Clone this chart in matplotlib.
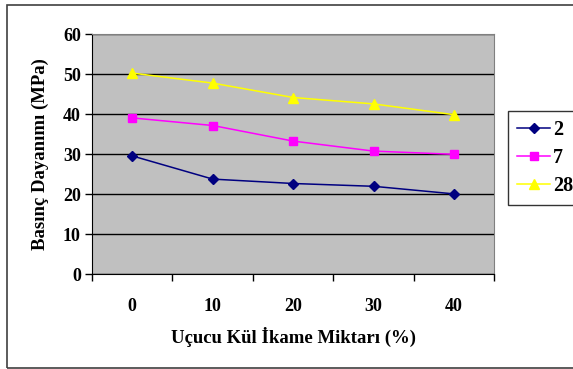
import numpy as np
import matplotlib.pyplot as plt
from matplotlib.patches import Rectangle

# Uçucu kül ikame oranına göre basınç dayanımı (2, 7 ve 28 günlük)
kul_orani = ['0', '10', '20', '30', '40']
gun_2 = [29.6, 23.8, 22.7, 22.0, 20.1]
gun_7 = [39.1, 37.2, 33.3, 30.8, 30.0]
gun_28 = [50.3, 47.8, 44.2, 42.6, 39.9]

plt.rcParams['font.family'] = ['Liberation Serif', 'DejaVu Serif']
plt.rcParams['font.weight'] = 'bold'

W, H = 573, 369
fig = plt.figure(figsize=(W/100, H/100), dpi=100)

# dış çerçeve
fig.patches.append(Rectangle((7/W, 1/H), 1.2, 1-6/H, transform=fig.transFigure,
                             fill=False, edgecolor='#404040', linewidth=1.2))

ax = fig.add_axes([92/W, (H-274.3)/H, 402.3/W, 240/H])
ax.set_facecolor('#C0C0C0')

x = np.arange(len(kul_orani))
ax.plot(x, gun_2, color='#000080', marker='D', markersize=5, linewidth=1.1, label='2')
ax.plot(x, gun_7, color='#FF00FF', marker='s', markersize=6, linewidth=1.1, label='7')
ax.plot(x, gun_28, color='#FFFF00', marker='^', markersize=7, linewidth=1.1, label='28')

ax.set_xlim(-0.5, len(kul_orani) - 0.5)
ax.set_ylim(0, 60)
ax.set_yticks(np.arange(0, 61, 10))
ax.yaxis.grid(True, color='black', linewidth=1)
ax.set_axisbelow(True)

ax.set_xticks(np.arange(-0.5, len(kul_orani)), minor=False)
ax.set_xticklabels([])
ax.set_xticks(x, minor=True)
ax.set_xticklabels(kul_orani, minor=True)
ax.tick_params(axis='x', which='minor', length=0, pad=17, labelsize=13)
ax.tick_params(axis='x', which='major', length=5, width=1, direction='out')
ax.tick_params(axis='y', length=5, width=1, direction='out', labelsize=13, pad=3)

for s in ['top', 'right']:
    ax.spines[s].set_color('#808080')
for s in ['left', 'bottom']:
    ax.spines[s].set_color('black')

ax.set_xlabel('Uçucu Kül İkame Miktarı (%)', fontsize=13.5, fontweight='bold', labelpad=9)
ax.set_ylabel('Basınç Dayanımı (MPa)', fontsize=13.5, fontweight='bold', labelpad=10)

leg = fig.legend(loc='upper left', bbox_to_anchor=(508/W, 1-111/H), frameon=True,
                 fancybox=False, edgecolor='black', fontsize=14.5, handlelength=1.65,
                 handletextpad=0.15, labelspacing=0.4, borderaxespad=0, borderpad=0.45)
leg.get_frame().set_linewidth(1)

fig.savefig('out.png', dpi=100)
